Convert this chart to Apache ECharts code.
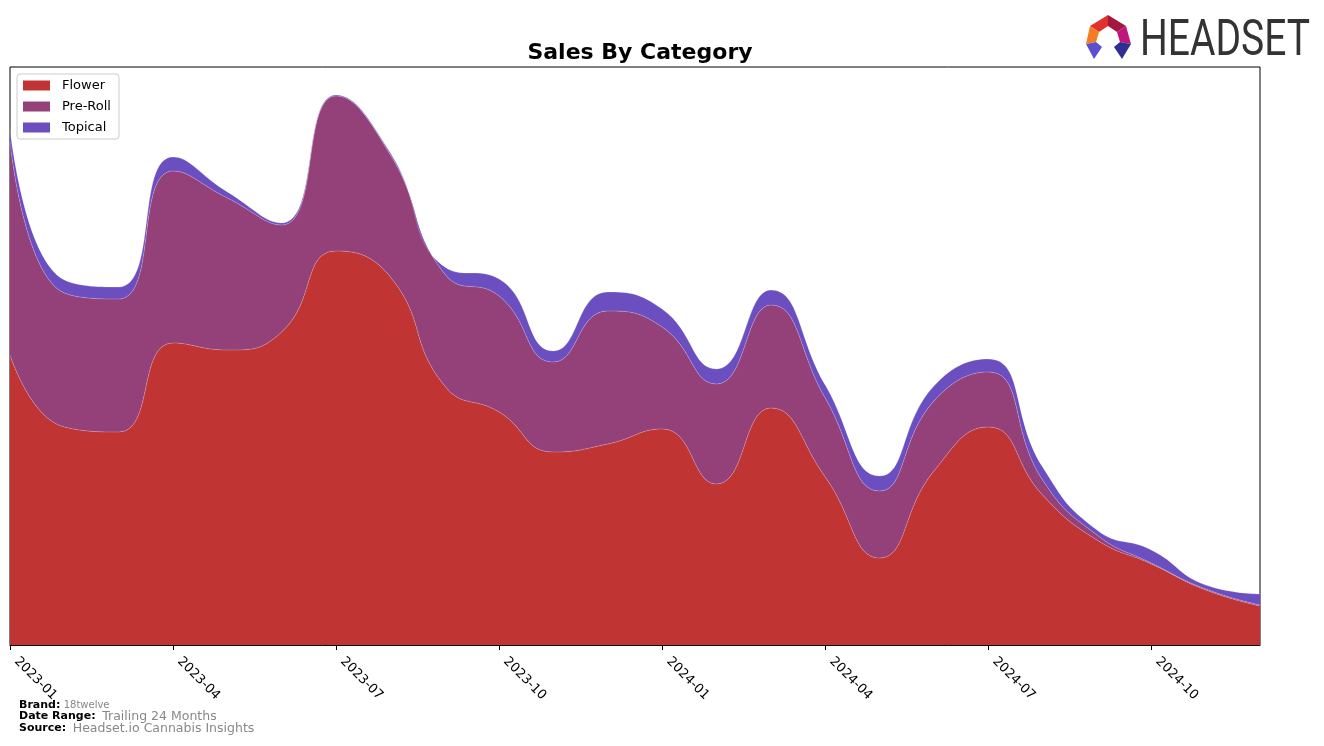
<!DOCTYPE html>
<html>
<head>
<meta charset="utf-8">
<script src="https://cdn.jsdelivr.net/npm/echarts@6/dist/echarts.min.js"></script>
<style>
html,body{margin:0;padding:0;background:#fff;}
#chart{width:1324px;height:746px;}
</style>
</head>
<body>
<div id="chart"></div>
<script>
// Months (categories)
const months = ['2023-01','2023-02','2023-03','2023-04','2023-05','2023-06','2023-07','2023-08','2023-09','2023-10','2023-11','2023-12',
                '2024-01','2024-02','2024-03','2024-04','2024-05','2024-06','2024-07','2024-08','2024-09','2024-10','2024-11','2024-12'];
// Tick labels shown on the x axis
const tickLabels = ['2023-01','2023-04','2023-07','2023-10','2024-01','2024-04','2024-07','2024-10'];
// Series values (relative sales)
const flower  = [290,218,213,302,295,313,394,368,259,233,193,201,216,161,237,168,87,174,218,150,105,81,55,39];
const preRoll = [213,134,133,172,152,107,155,122,112,116,90,133,102,100,103,79,67,70,55,15,5,1,1,1];
const topical = [13,13,12,14,6,2,1,2,7,17,11,19,18,15,15,13,15,15,13,13,5,13,4,11];

const colors = {Flower:'#c13434', 'Pre-Roll':'#954179', Topical:'#6b4fc1'};

const chart = echarts.init(document.getElementById('chart'));
function mk(name, data){
  return {
    name, type:'line', stack:'total', data, smooth:0.5, showSymbol:false, symbol:'none',
    lineStyle:{width:0.6, color:'rgba(255,255,255,0.35)'},
    areaStyle:{color:colors[name], opacity:1},
    itemStyle:{color:colors[name]},
    emphasis:{disabled:true}
  };
}
const icon = [
  {pts:[[1090,26],[1108,15],[1108,26],[1099,32]], c:'#e0312c'},
  {pts:[[1108,15],[1126,26],[1117,32],[1108,26]], c:'#a3173f'},
  {pts:[[1126,26],[1131,44],[1120,42],[1117,32]], c:'#c0157c'},
  {pts:[[1131,44],[1122,59],[1114,47],[1120,42]], c:'#2f2f8f'},
  {pts:[[1086,44],[1096,42],[1102,47],[1094,59]], c:'#5b50d0'},
  {pts:[[1090,26],[1099,32],[1096,42],[1086,44]], c:'#f47c22'}
];
const graphics = icon.map(p=>({type:'polygon', shape:{points:p.pts}, style:{fill:p.c}}));
graphics.push({
  type:'text', left:1140, top:17, scaleX:0.78,
  style:{text:'HEADSET', font:'normal 50px Roboto', fill:'#333333'}
});
graphics.push({
  type:'text', left:19, top:699,
  style:{rich:{b:{font:'bold 11px "DejaVu Sans"', fill:'#000'}, v:{font:'10px "DejaVu Sans"', fill:'#888'}},
         text:'{b|Brand:} {v|18twelve}'}
});
graphics.push({
  type:'text', left:19, top:710,
  style:{rich:{b:{font:'bold 11px "DejaVu Sans"', fill:'#000'}, v:{font:'12.5px "DejaVu Sans"', fill:'#888'}},
         text:'{b|Date Range:}  {v|Trailing 24 Months}'}
});
graphics.push({
  type:'text', left:19, top:722,
  style:{rich:{b:{font:'bold 11px "DejaVu Sans"', fill:'#000'}, v:{font:'12.5px "DejaVu Sans"', fill:'#888'}},
         text:'{b|Source:}  {v|Headset.io Cannabis Insights}'}
});

chart.setOption({
  animation:false,
  backgroundColor:'#fff',
  title:{text:'Sales By Category', left:635, top:37, textAlign:'center',
         textStyle:{fontFamily:'DejaVu Sans', fontWeight:'bold', fontSize:22, color:'#000'}},
  legend:{
    orient:'vertical', left:17, top:74, data:['Flower','Pre-Roll','Topical'],
    icon:'rect', itemWidth:27, itemHeight:10, itemGap:8,
    padding:[5,8,5,6], borderColor:'#cccccc', borderWidth:1, borderRadius:3,
    backgroundColor:'rgba(255,255,255,0.8)',
    textStyle:{fontFamily:'DejaVu Sans', fontSize:13, color:'#000', padding:[0,0,0,7]},
    selectedMode:false
  },
  grid:{left:10, top:67, right:64, bottom:101, show:true, borderColor:'#000', borderWidth:1, containLabel:false},
  xAxis:{
    type:'category', data:months, boundaryGap:false,
    axisLine:{show:true, lineStyle:{color:'#000', width:1}},
    axisTick:{show:true, interval:(i,v)=>tickLabels.includes(v), length:5, lineStyle:{color:'#000'}},
    axisLabel:{interval:(i,v)=>tickLabels.includes(v), rotate:-45, margin:8, padding:[0,0,0,9],
               fontFamily:'DejaVu Sans', fontSize:13, color:'#000'},
    splitLine:{show:false}
  },
  yAxis:{type:'value', min:0, max:578, show:false, splitLine:{show:false}},
  series:[mk('Flower',flower), mk('Pre-Roll',preRoll), mk('Topical',topical)],
  graphic:graphics
});
</script>
</body>
</html>
